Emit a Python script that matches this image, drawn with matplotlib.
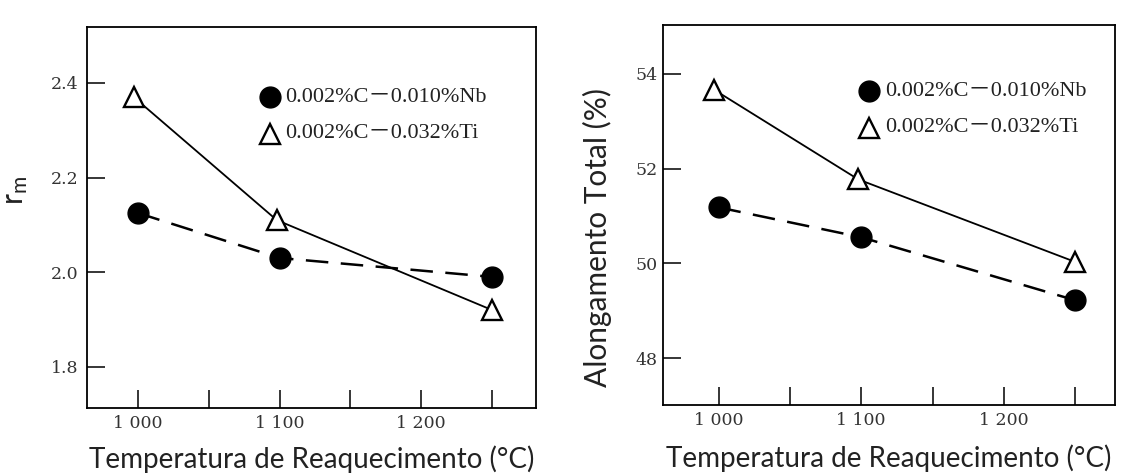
import matplotlib.pyplot as plt
from matplotlib.ticker import FixedLocator, FixedFormatter

# --- dados ---
temp_nb = [1000, 1100, 1250]
temp_ti = [997, 1098, 1250]

rm_nb = [2.125, 2.03, 1.99]
rm_ti = [2.37, 2.11, 1.92]

along_nb = [51.18, 50.55, 49.22]
along_ti = [53.66, 51.77, 50.03]

label_nb = "0.002%C－0.010%Nb"
label_ti = "0.002%C－0.032%Ti"

xticks = [1000, 1100, 1200]
xtick_labels = ["1 000", "1 100", "1 200"]
xminor = [1050, 1150, 1250]

rm_ticks = [1.8, 2.0, 2.2, 2.4]
along_ticks = [48, 50, 52, 54]

fig = plt.figure(figsize=(11.22, 4.73), dpi=100)
ax1 = fig.add_axes([0.0775, 0.1374, 0.4002, 0.8055])
ax2 = fig.add_axes([0.5909, 0.1438, 0.4029, 0.8034])

sans = "Lato"
serif = "DejaVu Serif"
leg_font = ["Liberation Serif", "Noto Sans CJK JP"]


def desenhar(ax, y_nb, y_ti, yt, ylim, xlim, ylabel, ylab_xy, xlab_y,
             leg_xy, ypad):
    ax.plot(temp_ti, y_ti, color="black", lw=1.3, marker="^", ms=15,
            mfc="white", mec="black", mew=1.7, zorder=3)
    ax.plot(temp_nb, y_nb, color="black", lw=1.8, marker="o", ms=15,
            mfc="black", mec="black", dashes=(9, 5), zorder=3)
    ax.set_xlim(*xlim)
    ax.set_ylim(*ylim)
    ax.xaxis.set_major_locator(FixedLocator(xticks))
    ax.xaxis.set_major_formatter(FixedFormatter(xtick_labels))
    ax.xaxis.set_minor_locator(FixedLocator(xminor))
    ax.set_yticks(yt)
    ax.tick_params(axis="both", which="both", direction="in", length=13,
                   width=1.1, top=False, right=False, labelsize=12.5)
    ax.tick_params(axis="x", pad=5)
    ax.tick_params(axis="y", pad=ypad)
    for lab in ax.get_xticklabels() + ax.get_yticklabels():
        lab.set_family(serif)
        lab.set_color("#333333")
    for sp in ax.spines.values():
        sp.set_linewidth(1.3)
    ax.set_xlabel("Temperatura de Reaquecimento (°C)", family=sans,
                  fontsize=20, color="#222222", va="top")
    ax.xaxis.set_label_coords(0.5, xlab_y)
    ax.set_ylabel(ylabel, family=sans, fontsize=21.5, color="#222222")
    ax.yaxis.set_label_coords(*ylab_xy)
    # legenda manual
    lx, ly = leg_xy
    ax.plot([lx], [ly[0]], marker="o", ms=15, color="black",
            transform=ax.transAxes, clip_on=False)
    ax.plot([lx], [ly[1]], marker="^", ms=15, mfc="white", mec="black",
            mew=1.7, transform=ax.transAxes, clip_on=False)
    for yy, txt in zip(ly, [label_nb, label_ti]):
        ax.text(lx + 0.035, yy, txt, transform=ax.transAxes,
                family=leg_font, fontsize=16, va="center", ha="left",
                color="#222222")


desenhar(ax1, rm_nb, rm_ti, rm_ticks, (1.713, 2.518), (964, 1281),
         r"$\mathregular{r_m}$", (-0.127, 0.57), -0.097,
         (0.407, (0.815, 0.72)), 6)
desenhar(ax2, along_nb, along_ti, along_ticks, (47.01, 55.03), (961, 1278),
         "Alongamento Total (%)", (-0.113, 0.44), -0.105,
         (0.456, (0.825, 0.73)), 4)

fig.savefig("out.png", dpi=100)
